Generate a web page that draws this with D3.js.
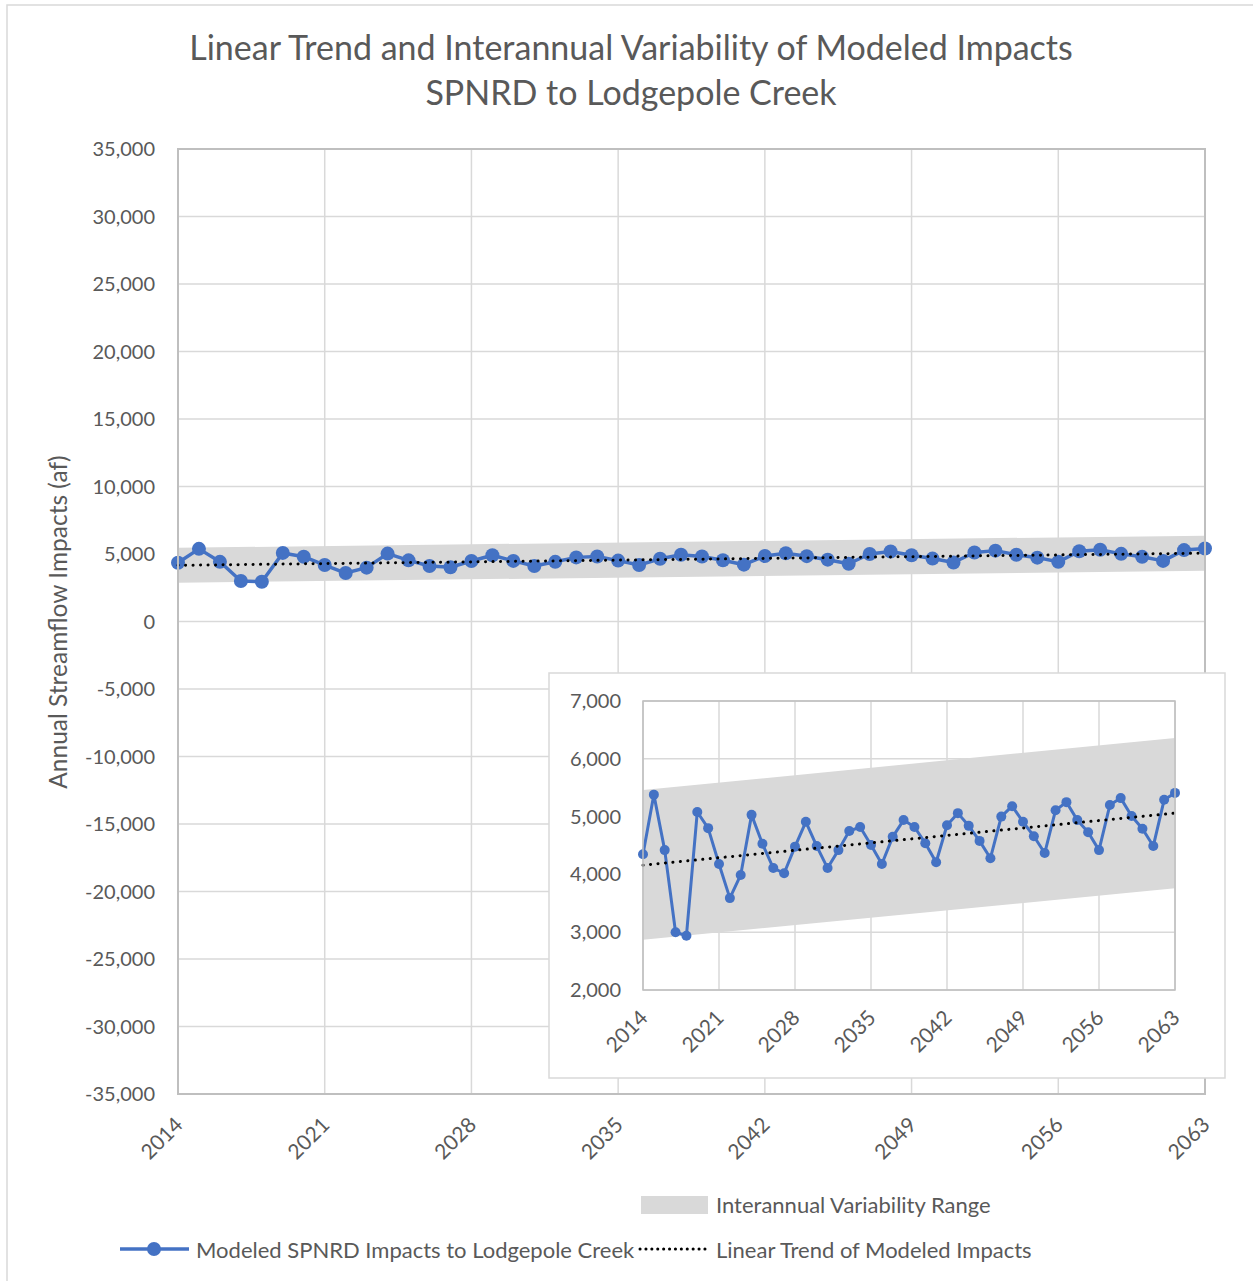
<!DOCTYPE html>
<html>
<head>
<meta charset="utf-8">
<script src="https://cdn.jsdelivr.net/npm/d3@7"></script>
<style>
  html, body { margin: 0; padding: 0; background: #fff; }
  svg text { font-family: Lato, "Open Sans", sans-serif; fill: #595959; }
</style>
</head>
<body>
<svg id="chart" width="1253" height="1281"></svg>
<script>
// ---------- DATA ----------
const years = d3.range(2014, 2064);
const impacts = [
  4350, 5380, 4420, 3000, 2940, 5080, 4800, 4180, 3590, 3990,
  5030, 4530, 4110, 4020, 4480, 4910, 4490, 4110, 4420, 4750,
  4820, 4510, 4180, 4650, 4940, 4820, 4540, 4210, 4850, 5060,
  4840, 4580, 4280, 5000, 5180, 4910, 4660, 4370, 5110, 5250,
  4940, 4730, 4420, 5200, 5320, 5010, 4790, 4490, 5290, 5410
];
const trendYears = [2014, 2063];
const trendValues = [4160, 5060];
const bandUpper = [5460, 6360];
const bandLower = [2870, 3760];
const xTickYears = [2014, 2021, 2028, 2035, 2042, 2049, 2056, 2063];
const mainYTicks = d3.range(-35000, 35001, 5000);
const insetYTicks = [2000, 3000, 4000, 5000, 6000, 7000];
const titleLines = ["Linear Trend and Interannual Variability of Modeled Impacts", "SPNRD to Lodgepole Creek"];
const yAxisTitle = "Annual Streamflow Impacts (af)";
const legendBand = "Interannual Variability Range";
const legendSeries = "Modeled SPNRD Impacts to Lodgepole Creek";
const legendTrend = "Linear Trend of Modeled Impacts";

// ---------- STYLE ----------
const BLUE = "#4472C4";
const GRID = "#d9d9d9";
const AXIS = "#bfbfbf";
const BAND = "#d9d9d9";
const fmt = v => d3.format(",")(v).replace("\u2212", "-");

const svg = d3.select("#chart");

// outer frame
svg.append("rect").attr("x", 7).attr("y", 5).attr("width", 1260).attr("height", 1290)
  .attr("fill", "#fff").attr("stroke", GRID).attr("stroke-width", 1.5);

// title
svg.append("g").selectAll("text").data(titleLines).join("text")
  .attr("x", 631).attr("y", (d, i) => 60 + i * 45)
  .attr("text-anchor", "middle").attr("font-size", 34).text(d => d);

const bandData = trendYears.map((yr, i) => ({ yr, lo: bandLower[i], hi: bandUpper[i], t: trendValues[i] }));
const seriesData = years.map((yr, i) => ({ yr, v: impacts[i] }));

function drawPlot(g, x, y, yTicks, opt) {
  const [x0, x1] = x.range();
  const [y0, y1] = y.range(); // y0 bottom, y1 top
  g.append("g").selectAll("line").data(yTicks).join("line")
    .attr("x1", x0).attr("x2", x1).attr("y1", d => y(d)).attr("y2", d => y(d))
    .attr("stroke", GRID).attr("stroke-width", opt.gridW);
  g.append("g").selectAll("line").data(xTickYears).join("line")
    .attr("y1", y0).attr("y2", y1).attr("x1", d => x(d)).attr("x2", d => x(d))
    .attr("stroke", GRID).attr("stroke-width", opt.gridW);
  g.append("path").datum(bandData)
    .attr("d", d3.area().x(d => x(d.yr)).y0(d => y(d.lo)).y1(d => y(d.hi)))
    .attr("fill", BAND);
  g.append("path").datum(seriesData)
    .attr("d", d3.line().x(d => x(d.yr)).y(d => y(d.v)))
    .attr("fill", "none").attr("stroke", BLUE).attr("stroke-width", opt.lineW)
    .attr("stroke-linejoin", "round");
  g.append("g").selectAll("circle").data(seriesData).join("circle")
    .attr("cx", d => x(d.yr)).attr("cy", d => y(d.v)).attr("r", opt.r).attr("fill", BLUE);
  g.append("path").datum(bandData)
    .attr("d", d3.line().x(d => x(d.yr)).y(d => y(d.t)))
    .attr("fill", "none").attr("stroke", "#000").attr("stroke-width", opt.dotW)
    .attr("stroke-linecap", "round").attr("stroke-dasharray", opt.dash);
  g.append("rect").attr("x", x0).attr("y", y1).attr("width", x1 - x0).attr("height", y0 - y1)
    .attr("fill", "none").attr("stroke", AXIS).attr("stroke-width", opt.borderW);
  g.append("g").selectAll("text").data(yTicks).join("text")
    .attr("x", x0 - opt.yLabGap).attr("y", d => y(d)).attr("dy", "0.35em")
    .attr("text-anchor", "end").attr("font-size", opt.fs).text(d => fmt(d));
  g.append("g").selectAll("text").data(xTickYears).join("text")
    .attr("transform", d => `translate(${x(d) + opt.xLabDx},${y0 + opt.xLabDy}) rotate(-45)`)
    .attr("text-anchor", "end").attr("dy", "0.35em").attr("font-size", opt.xfs).text(d => d);
}

// ---------- MAIN ----------
const xMain = d3.scaleLinear().domain([2014, 2063]).range([178, 1205]);
const yMain = d3.scaleLinear().domain([-35000, 35000]).range([1094, 149]);
drawPlot(svg.append("g"), xMain, yMain, mainYTicks,
  { gridW: 1.5, lineW: 3.5, r: 7, dotW: 3, dash: "0.1 7.4", borderW: 2, yLabGap: 23, fs: 20, xfs: 21, xLabDx: 1, xLabDy: 27 });

svg.append("text").attr("transform", "translate(58,622) rotate(-90)")
  .attr("text-anchor", "middle").attr("dy", "0.35em").attr("font-size", 24.5).text(yAxisTitle);

// ---------- INSET ----------
svg.append("rect").attr("x", 549).attr("y", 673).attr("width", 676).attr("height", 405)
  .attr("fill", "#fff").attr("stroke", GRID).attr("stroke-width", 1.5);
const xIn = d3.scaleLinear().domain([2014, 2063]).range([643, 1175]);
const yIn = d3.scaleLinear().domain([2000, 7000]).range([990, 701]);
drawPlot(svg.append("g"), xIn, yIn, insetYTicks,
  { gridW: 1.5, lineW: 3, r: 5, dotW: 3, dash: "0.1 7.4", borderW: 1.5, yLabGap: 22, fs: 20, xfs: 21, xLabDx: 1, xLabDy: 24 });

// ---------- LEGEND ----------
const leg = svg.append("g");
leg.append("rect").attr("x", 641).attr("y", 1196).attr("width", 67).attr("height", 18).attr("fill", BAND);
leg.append("text").attr("x", 716).attr("y", 1205).attr("dy", "0.35em").attr("font-size", 22).text(legendBand);
leg.append("line").attr("x1", 120).attr("x2", 189).attr("y1", 1249).attr("y2", 1249)
  .attr("stroke", BLUE).attr("stroke-width", 3.5);
leg.append("circle").attr("cx", 154).attr("cy", 1249).attr("r", 7).attr("fill", BLUE);
leg.append("text").attr("x", 196).attr("y", 1250).attr("dy", "0.35em").attr("font-size", 22).text(legendSeries);
leg.append("line").attr("x1", 640).attr("x2", 710).attr("y1", 1249).attr("y2", 1249)
  .attr("stroke", "#000").attr("stroke-width", 3).attr("stroke-linecap", "round").attr("stroke-dasharray", "0.1 5.8");
leg.append("text").attr("x", 716).attr("y", 1250).attr("dy", "0.35em").attr("font-size", 22).text(legendTrend);
</script>
</body>
</html>
